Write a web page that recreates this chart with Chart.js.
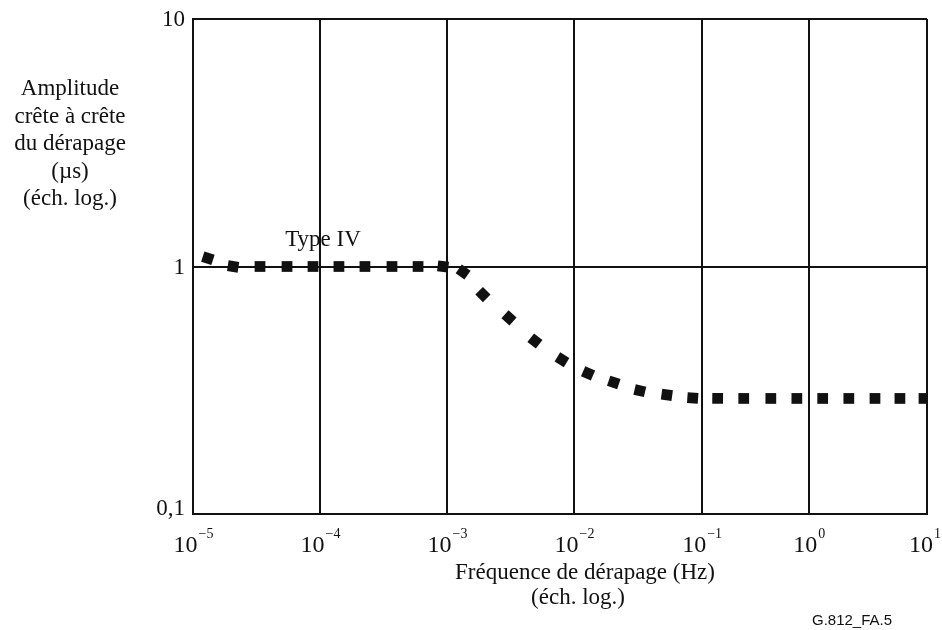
<!DOCTYPE html>
<html>
<head>
<meta charset="utf-8">
<script src="https://cdn.jsdelivr.net/npm/chart.js@4.4.1/dist/chart.umd.min.js"></script>
<style>
  body { margin: 0; background: #fff; }
  #wrap { width: 942px; height: 630px; position: relative; }
</style>
</head>
<body>
<div id="wrap"><canvas id="slipChart"></canvas></div>
<script>
// values (Hz, µs)
const frequencies = [
  1.31e-5, 2.07e-5, 3.37e-5, 5.5e-5, 8.81e-5,
  1.41e-4, 2.26e-4, 3.69e-4, 5.92e-4, 9.31e-4,
  1.34e-3, 1.92e-3, 3.08e-3, 4.93e-3, 8.05e-3,
  1.29e-2, 2.05e-2, 3.28e-2, 5.34e-2, 8.51e-2,
  0.141, 0.247, 0.442, 0.773,
  1.31, 2.18, 3.63, 5.9, 9.43,
];
const amplitudes = [
  1.08, 1.0, 1.0, 1.0, 1.0,
  1.0, 1.0, 1.0, 1.0, 1.0,
  0.95, 0.77, 0.62, 0.5, 0.42,
  0.37, 0.34, 0.315, 0.303, 0.294,
  0.293, 0.293, 0.293, 0.293,
  0.293, 0.293, 0.293, 0.293, 0.293,
];
const xTickValues = [1e-5, 1e-4, 1e-3, 1e-2, 1e-1, 1, 10];
const xTickExponents = ['\u22125', '\u22124', '\u22123', '\u22122', '\u22121', '0', '1'];
const yTickValues = [0.1, 1, 10];
const yTickLabels = ['0,1', '1', '10'];
const yTitleLines = ['Amplitude', 'crête à crête', 'du dérapage', '(\u00b5s)', '(éch. log.)'];
const xTitleLines = ['Fréquence de dérapage (Hz)', '(éch. log.)'];
const curveLabel = 'Type IV';
const figureRef = 'G.812_FA.5';

// the decades of the original x axis are not evenly spaced
const decadeStops = [0, 0.173, 0.346, 0.519, 0.693, 0.839, 1];

class WarpedLogScale extends Chart.LogarithmicScale {
  getPixelForValue(value) {
    const d = Math.log10(value) - Math.log10(this.min);
    const i = Math.min(Math.max(Math.floor(d), 0), decadeStops.length - 2);
    const f = decadeStops[i] + (d - i) * (decadeStops[i + 1] - decadeStops[i]);
    return this.left + f * this.width;
  }
  getValueForPixel(pixel) {
    const f = (pixel - this.left) / this.width;
    let i = 0;
    while (i < decadeStops.length - 2 && f > decadeStops[i + 1]) i++;
    const d = i + (f - decadeStops[i]) / (decadeStops[i + 1] - decadeStops[i]);
    return Math.pow(10, Math.log10(this.min) + d);
  }
}
WarpedLogScale.id = 'warpedLog';
WarpedLogScale.defaults = Chart.LogarithmicScale.defaults;
Chart.register(WarpedLogScale);

const serif = '"Liberation Serif", "Times New Roman", serif';
const ink = '#111';

// markers follow the direction of the curve, like the dots of the original
function markerAngle(c) {
  const xs = c.chart.scales.x;
  const ys = c.chart.scales.y;
  const i = c.dataIndex;
  const a = Math.max(i - 1, 0);
  const b = Math.min(i + 1, frequencies.length - 1);
  const dx = xs.getPixelForValue(frequencies[b]) - xs.getPixelForValue(frequencies[a]);
  const dy = ys.getPixelForValue(amplitudes[b]) - ys.getPixelForValue(amplitudes[a]);
  return (Math.atan2(dy, dx) * 180) / Math.PI;
}

const textPlugin = {
  id: 'figureText',
  afterDraw(chart) {
    const ctx = chart.ctx;
    const xs = chart.scales.x;
    const ys = chart.scales.y;
    const area = chart.chartArea;
    ctx.save();
    ctx.fillStyle = ink;

    // x tick labels: 10 with raised exponent
    xTickValues.forEach((v, i) => {
      const px = xs.getPixelForValue(v);
      ctx.font = '24px ' + serif;
      const baseW = ctx.measureText('10').width;
      ctx.font = '14px ' + serif;
      const expW = ctx.measureText(xTickExponents[i]).width;
      let left = px - (baseW + expW) / 2;
      if (left + baseW + expW > 940) left = 940 - baseW - expW;
      ctx.textAlign = 'left';
      ctx.textBaseline = 'alphabetic';
      ctx.font = '24px ' + serif;
      ctx.fillText('10', left, 552);
      ctx.font = '14px ' + serif;
      ctx.fillText(xTickExponents[i], left + baseW + 1, 538);
    });

    // y tick labels
    ctx.font = '23px ' + serif;
    ctx.textAlign = 'right';
    ctx.textBaseline = 'alphabetic';
    yTickValues.forEach((v, i) => {
      const py = ys.getPixelForValue(v);
      ctx.fillText(yTickLabels[i], area.left - 8, Math.min(py + 7, area.bottom + 1));
    });

    // y axis title
    ctx.textAlign = 'center';
    yTitleLines.forEach((line, i) => {
      ctx.fillText(line, 70, 95 + i * 27.5);
    });

    // x axis title
    ctx.fillText(xTitleLines[0], 585, 579);
    ctx.fillText(xTitleLines[1], 578, 604);

    // curve label
    ctx.fillText(curveLabel, 323, 246);

    ctx.font = '15px "Liberation Sans", Arial, sans-serif';
    ctx.fillText(figureRef, 852, 625);
    ctx.restore();
  },
};

const points = frequencies.map((f, i) => ({ x: f, y: amplitudes[i] }));

new Chart(document.getElementById('slipChart'), {
  type: 'line',
  data: {
    datasets: [{
      label: curveLabel,
      data: points,
      showLine: false,
      pointStyle: 'rect',
      pointRadius: 7.6,
      pointRotation: markerAngle,
      pointBackgroundColor: ink,
      pointBorderWidth: 0,
      clip: 1,
    }],
  },
  options: {
    responsive: true,
    maintainAspectRatio: false,
    animation: false,
    events: [],
    layout: { padding: { left: 193, top: 19, right: 15, bottom: 116 } },
    plugins: { legend: { display: false }, tooltip: { enabled: false } },
    scales: {
      x: {
        type: 'warpedLog',
        min: 1e-5,
        max: 10,
        afterBuildTicks: (scale) => {
          scale.ticks = xTickValues.map((v) => ({ value: v }));
        },
        ticks: { display: false },
        grid: { color: ink, lineWidth: 2, drawTicks: false },
        border: { display: true, color: ink, width: 2 },
      },
      y: {
        type: 'logarithmic',
        min: 0.1,
        max: 10,
        afterBuildTicks: (scale) => {
          scale.ticks = yTickValues.map((v) => ({ value: v }));
        },
        ticks: { display: false },
        grid: { color: ink, lineWidth: 2, drawTicks: false },
        border: { display: true, color: ink, width: 2 },
      },
    },
  },
  plugins: [textPlugin],
});
</script>
</body>
</html>
